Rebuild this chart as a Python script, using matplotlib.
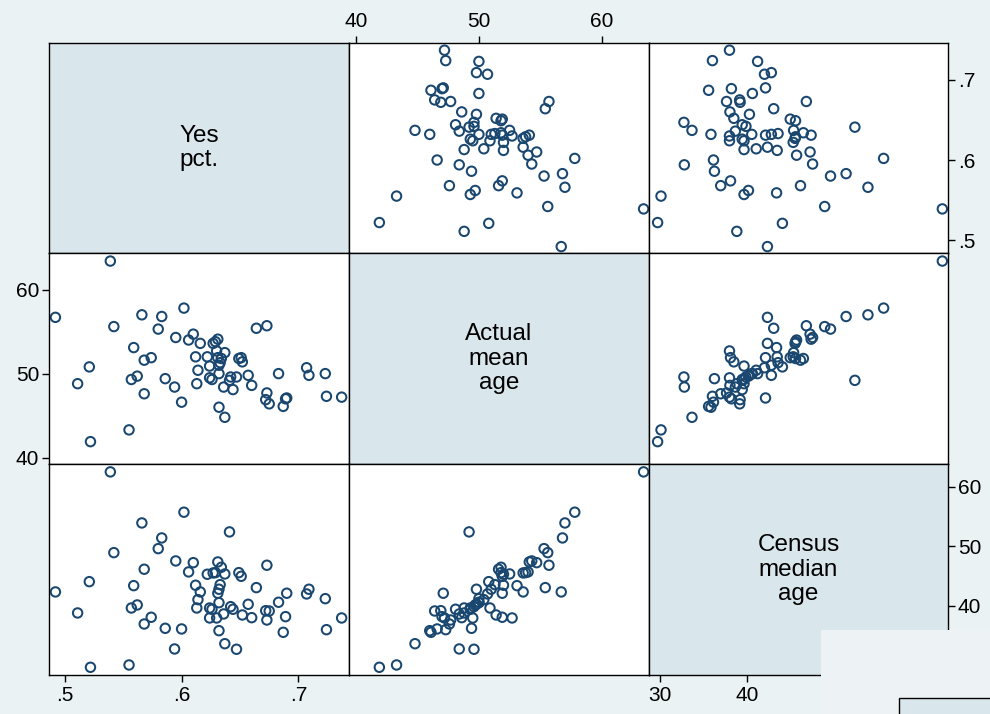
import matplotlib
matplotlib.use("Agg")
import matplotlib.pyplot as plt
from matplotlib.patches import Rectangle

plt.rcParams['font.family'] = ['Liberation Sans', 'DejaVu Sans']

# Dados (Yes pct., Actual mean age, Census median age)
yes_pct = [0.539, 0.492, 0.602, 0.566, 0.583, 0.542, 0.580, 0.595, 0.610, 0.606,
           0.559, 0.574, 0.568, 0.521, 0.612, 0.614, 0.562, 0.557, 0.586, 0.511,
           0.594, 0.613, 0.568, 0.600, 0.555, 0.522, 0.616, 0.627, 0.629, 0.631,
           0.630, 0.637, 0.622, 0.631, 0.634, 0.633, 0.624, 0.632, 0.632, 0.624,
           0.626, 0.642, 0.641, 0.647, 0.636, 0.644, 0.649, 0.651, 0.652, 0.657,
           0.660, 0.664, 0.673, 0.683, 0.673, 0.672, 0.675, 0.690, 0.689, 0.687,
           0.707, 0.709, 0.723, 0.724, 0.737, 0.632, 0.637]
actual_age = [63.4, 56.7, 57.8, 57.0, 56.8, 55.6, 55.3, 54.3, 54.7, 54.0,
              53.1, 51.9, 51.6, 50.8, 52.0, 50.4, 49.7, 49.3, 49.4, 48.8,
              48.4, 48.8, 47.6, 46.6, 43.3, 41.9, 53.6, 53.6, 53.8, 54.1,
              52.7, 52.5, 52.0, 51.9, 51.8, 51.3, 50.9, 51.0, 50.0, 49.5,
              49.3, 49.6, 49.2, 49.6, 48.4, 48.1, 51.8, 51.9, 51.4, 49.8,
              48.6, 55.4, 55.7, 50.0, 47.7, 46.9, 46.4, 47.1, 47.0, 46.1,
              50.7, 49.8, 50.0, 47.3, 47.2, 46.0, 44.8]
census_age = [62.45, 42.35, 55.70, 53.90, 51.39, 48.93, 49.60, 47.54, 47.25, 45.70,
              43.40, 38.11, 46.15, 44.07, 43.47, 41.06, 40.17, 39.66, 36.26, 38.83,
              32.80, 39.66, 36.98, 36.15, 30.12, 29.73, 42.35, 45.53, 45.58, 47.37,
              37.99, 45.36, 45.31, 42.13, 46.48, 43.57, 39.66, 42.80, 40.55, 37.99,
              39.45, 39.88, 52.40, 32.75, 38.66, 39.45, 45.58, 44.97, 38.49, 40.28,
              38.04, 43.07, 46.82, 40.62, 37.65, 39.21, 39.16, 42.13, 38.21, 35.59,
              42.01, 42.80, 41.22, 36.03, 37.99, 35.86, 33.68]

nomes = ["Yes\npct.", "Actual\nmean\nage", "Census\nmedian\nage"]
dados = [yes_pct, actual_age, census_age]

ticks = [[0.5, 0.6, 0.7], [40, 50, 60], [30, 40, 50, 60]]
tick_labels = [[".5", ".6", ".7"], ["40", "50", "60"], ["30", "40", "50", "60"]]
ticks_y = [[0.5, 0.6, 0.7], [40, 50, 60], [40, 50, 60]]
tick_labels_y = [[".5", ".6", ".7"], ["40", "50", "60"], ["40", "50", "60"]]

xlims = [(0.4865, 0.7433), (39.43, 63.84), (28.74, 63.1)]
ylims = [(0.484, 0.7466), (39.24, 64.36), (28.44, 63.77)]

fundo = '#eaf2f3'
diag = '#d9e6ec'
azul = '#1a476f'

W, H = 990, 714
xe = [49, 349, 649, 948]
ye = [42.5, 253, 464, 675]

fig = plt.figure(figsize=(W / 100, H / 100), dpi=100, facecolor=fundo)

eixos = {}
for r in range(3):
    for c in range(3):
        rect = [xe[c] / W, 1 - ye[r + 1] / H, (xe[c + 1] - xe[c]) / W, (ye[r + 1] - ye[r]) / H]
        ax = fig.add_axes(rect)
        eixos[(r, c)] = ax
        ax.set_xlim(xlims[c])
        ax.set_ylim(ylims[r])
        ax.set_xticks([])
        ax.set_yticks([])
        for s in ax.spines.values():
            s.set_linewidth(1.0)
            s.set_color('black')
        if r == c:
            ax.set_facecolor(diag)
            ax.text(0.5, 0.5, nomes[r], transform=ax.transAxes, ha='center', va='center',
                    fontsize=17.5, linespacing=1.12)
        else:
            ax.set_facecolor('white')
            ax.scatter(dados[c], dados[r], s=46, facecolors='none', edgecolors=azul,
                       linewidths=1.45, clip_on=False)

fonte_ticks = 15

def eixo_x(ax, lado, i):
    ax.set_xticks(ticks[i])
    ax.set_xticklabels(tick_labels[i])
    ax.tick_params(axis='x', which='both', bottom=(lado == 'bottom'), top=(lado == 'top'),
                   labelbottom=(lado == 'bottom'), labeltop=(lado == 'top'),
                   length=5, width=1.0, labelsize=fonte_ticks, pad=3)

def eixo_y(ax, lado, i):
    ax.set_yticks(ticks_y[i])
    ax.set_yticklabels(tick_labels_y[i])
    ax.tick_params(axis='y', which='both', left=(lado == 'left'), right=(lado == 'right'),
                   labelleft=(lado == 'left'), labelright=(lado == 'right'),
                   length=5, width=1.0, labelsize=fonte_ticks, pad=2)

eixo_x(eixos[(0, 1)], 'top', 1)
eixo_x(eixos[(2, 0)], 'bottom', 0)
eixo_x(eixos[(2, 2)], 'bottom', 2)
eixo_y(eixos[(0, 2)], 'right', 0)
eixo_y(eixos[(1, 0)], 'left', 1)
eixo_y(eixos[(2, 2)], 'right', 2)

# Caixas no canto inferior direito
fig.patches.append(Rectangle((821 / W, 0), (W - 821) / W, (H - 630) / H,
                             transform=fig.transFigure, facecolor='#edf3f5',
                             edgecolor='none', zorder=5))
fig.patches.append(Rectangle((899 / W, -0.01), (W - 899) / W + 0.01, (H - 698) / H + 0.01,
                             transform=fig.transFigure, facecolor=diag,
                             edgecolor='black', linewidth=1.0, zorder=6))

fig.savefig("out.png", dpi=100, facecolor=fundo)
